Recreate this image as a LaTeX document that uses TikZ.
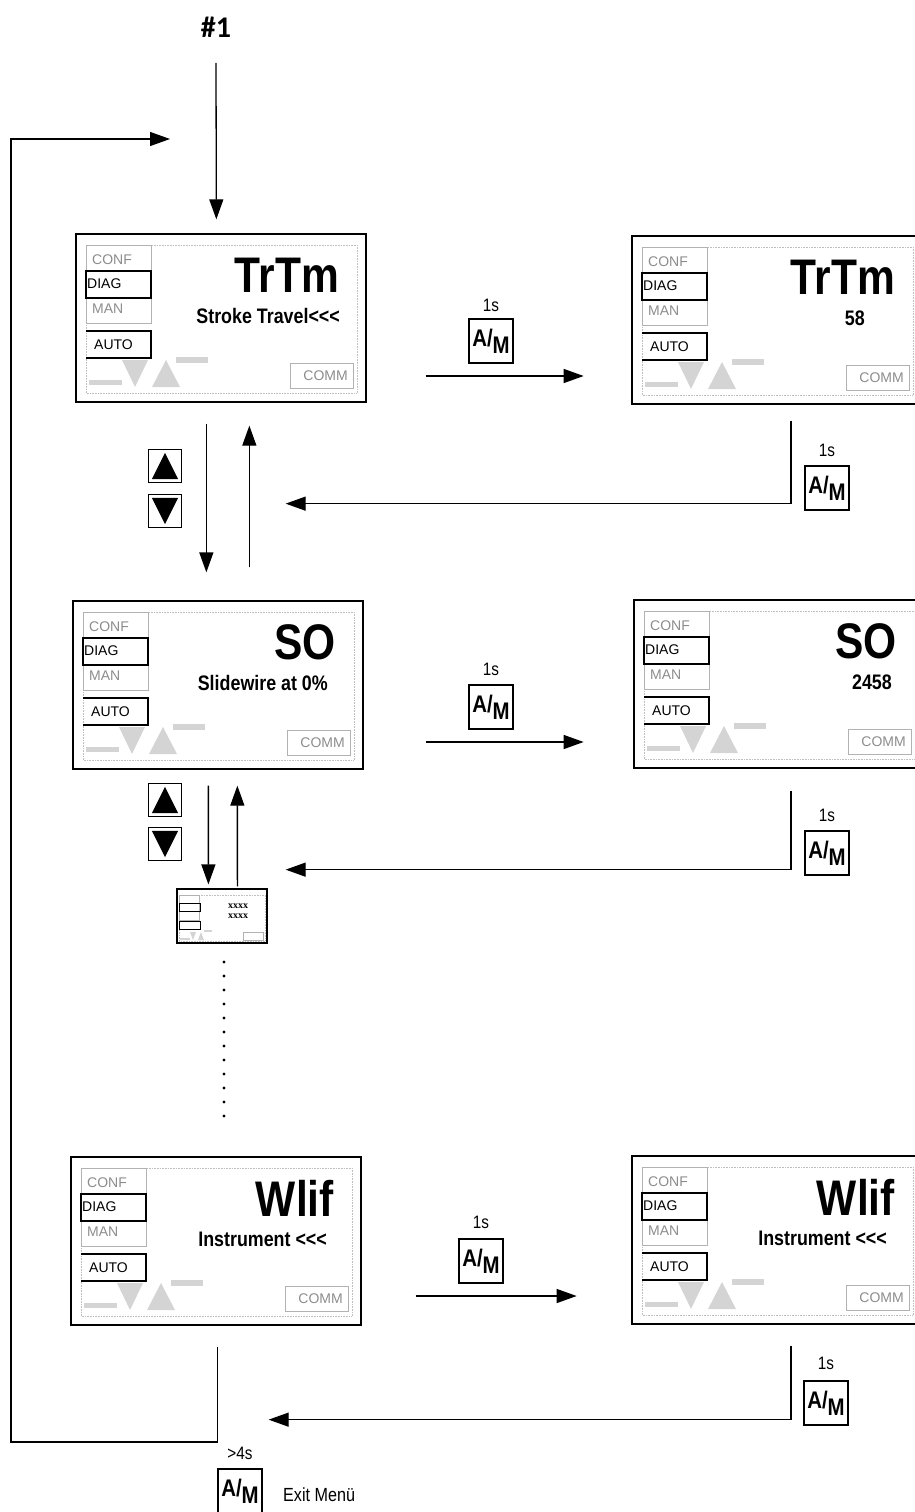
\documentclass[tikz,border=0pt]{standalone}
\usepackage{fontspec}
\setmainfont{Liberation Sans}
\newfontfamily\narrowfont[FakeStretch=0.85]{Liberation Sans}
\newfontfamily\headfont{Carlito}
\newfontfamily\minifont{Liberation Serif}
\usetikzlibrary{arrows.meta,calc}
\tikzstyle{flow} = [line width=1.3pt,-{Triangle[length=20pt,width=14pt]}]
\tikzstyle{screen} = [draw,line width=1.3pt,minimum width=290pt,minimum height=168pt,inner sep=0pt]
\tikzstyle{lcd} = [draw=black!25,line width=0.6pt,densely dotted]
\tikzstyle{pale} = [draw=black!30,line width=1pt]
\tikzstyle{sel} = [draw,line width=1.3pt]
\tikzstyle{seg} = [fill=black!17]
\tikzstyle{menu} = [inner sep=0pt,anchor=west,font=\fontsize{14}{14}\selectfont]
\tikzstyle{bigtxt} = [inner sep=0pt,anchor=east,font=\narrowfont\bfseries\fontsize{50}{50}\selectfont]
\tikzstyle{subtxt} = [inner sep=0pt,anchor=east,font=\narrowfont\bfseries\fontsize{21}{21}\selectfont]
\tikzstyle{key} = [draw,line width=1.3pt,minimum size=44pt,inner sep=0pt,font=\narrowfont\bfseries\fontsize{24}{24}\selectfont]
\tikzstyle{note} = [inner sep=0pt,font=\narrowfont\fontsize{18}{18}\selectfont]
\tikzstyle{btn} = [draw,line width=1.3pt,minimum size=33pt,inner sep=0pt]

% one display: name, x, y (top left), big text, small text, right end of small text
\newcommand{\screen}[6]{%
  \begin{scope}[shift={(#2,#3)}]
    \node[screen] (#1) at (145,84) {};
    \draw[lcd] (10,11) rectangle (281,159);
    \draw[pale] (10,11) rectangle (75,89);
    \draw[sel] (10,37) rectangle (75,64);
    \draw[sel] (10,97) -- (75,97) -- (75,124) -- (10,124);
    \draw[pale] (214,129) rectangle (277,154);
    \fill[seg] (13,146) rectangle (46,151);
    \fill[seg] (46,126) -- (72,126) -- (59,153) -- cycle;
    \fill[seg] (76,153) -- (104,153) -- (90,126) -- cycle;
    \fill[seg] (100,123) rectangle (132,129);
    \node[menu,text=black!45] (#1-conf) at (16,26) {CONF};
    \node[menu] (#1-diag) at (11,50) {DIAG};
    \node[menu,text=black!45] (#1-man) at (16,75) {MAN};
    \node[menu] (#1-auto) at (18,111) {AUTO};
    \node[menu,anchor=east,text=black!45] (#1-comm) at (272,142) {COMM};
    \node[bigtxt] (#1-big) at (263,41) {#4};
    \node[subtxt] (#1-sub) at (#6,82) {#5};
  \end{scope}}

\begin{document}
\begin{tikzpicture}[x=1pt,y=-1pt]
  \useasboundingbox (0,0) rectangle (914,1512);

  % displays
  \screen{trtm}{76}{234}{TrTm}{Stroke Travel<<<}{264}
  \screen{trtmv}{632}{236}{TrTm}{58}{233}
  \screen{so}{73}{601}{SO}{Slidewire at 0\%}{255}
  \screen{sov}{634}{600}{SO}{2458}{258}
  \screen{wlif}{71}{1157}{Wlif}{Instrument <<<}{256}
  \screen{wlifv}{632}{1156}{Wlif}{Instrument <<<}{255}

  % small display
  \node[screen,minimum width=90pt,minimum height=54pt,line width=1.2pt] (mini) at (222,916) {};
  \draw[lcd] (179,895) rectangle (265,941);
  \draw[pale,line width=0.6pt] (179,895) rectangle (199,920);
  \draw[sel,line width=1pt] (179,903) rectangle (200,911);
  \draw[sel,line width=1pt] (179,921) rectangle (200,929);
  \draw[pale,line width=0.6pt] (243,932) rectangle (263,940);
  \fill[seg] (180,938) rectangle (190,940);
  \fill[seg] (190,932) -- (196,932) -- (193,940) -- cycle;
  \fill[seg] (198,940) -- (204,940) -- (201,932) -- cycle;
  \fill[seg] (204,930) rectangle (212,932);
  \node[align=center,inner sep=0pt,font=\minifont\bfseries\fontsize{10}{10}\selectfont] (mini-txt) at (238,911) {xxxx\\xxxx};

  % entry and way back
  \node[font=\headfont\bfseries\fontsize{30}{30}\selectfont] (start) at (216,27) {\#1};
  \draw[flow] ($(start.south)+(0,22)$) -- ($(trtm.north west)+(141,-14)$);
  \coordinate (corner) at (11,1442);
  \coordinate (loop) at (170,139);
  \draw[flow] ($(wlif.south west)+(147,21)$) |- (corner) |- (loop);

  % A/M to the value
  \node[note] (t1) at (491,305) {1s};
  \node[key] (k1) at (491,341) {A/\raisebox{-7pt}{M}};
  \draw[flow] ($(trtm.east)+(59,58)$) -- +(158,0);
  \node[note] (t2) at (491,669) {1s};
  \node[key] (k2) at (491,707) {A/\raisebox{-7pt}{M}};
  \draw[flow] ($(so.east)+(62,57)$) -- +(158,0);
  \node[note] (t3) at (481,1222) {1s};
  \node[key] (k3) at (481,1261) {A/\raisebox{-7pt}{M}};
  \draw[flow] ($(wlif.east)+(54,55)$) -- +(161,0);

  % A/M back
  \node[note] (b1) at (827,450) {1s};
  \node[key] (kb1) at (827,488) {A/\raisebox{-7pt}{M}};
  \draw[flow] ($(trtmv.south)+(14,16)$) |- ($(trtm.south east)+(-81,101)$);
  \node[note] (b2) at (827,815) {1s};
  \node[key] (kb2) at (827,853) {A/\raisebox{-7pt}{M}};
  \draw[flow] ($(sov.south)+(12,22)$) |- ($(so.south east)+(-78,100)$);
  \node[note] (b3) at (826,1363) {1s};
  \node[key] (kb3) at (826,1403) {A/\raisebox{-7pt}{M}};
  \draw[flow] ($(wlifv.south)+(14,21)$) |- ($(wlif.south east)+(-93,94)$);

  % up / down
  \node[btn] (up1) at (165,466) {};
  \node[btn] (dn1) at (165,511) {};
  \node[btn] (up2) at (165,800) {};
  \node[btn] (dn2) at (165,844) {};
  \foreach \b in {up1,up2}
    \fill ($(\b.south west)+(4,-4)$) -- ($(\b.south east)+(-4,-4)$) -- ($(\b.north)+(0,4)$) -- cycle;
  \foreach \b in {dn1,dn2}
    \fill ($(\b.north west)+(4,4)$) -- ($(\b.north east)+(-4,4)$) -- ($(\b.south)+(0,-4)$) -- cycle;
  \draw[flow] ($(trtm.south west)+(131,21)$) -- ($(so.north west)+(134,-28)$);
  \draw[flow] ($(so.north west)+(177,-33)$) -- ($(trtm.south west)+(174,23)$);
  \draw[flow] ($(so.south west)+(136,16)$) -- ($(mini.north west)+(32,-4)$);
  \draw[flow] ($(mini.north west)+(61,-2)$) -- ($(so.south west)+(165,16)$);

  % more entries
  \foreach \i in {0,...,11}
    \fill (224,962+14*\i) circle (1.7pt);

  % exit
  \node[note] (exit-t) at (240,1453) {>4s};
  \node[key] (exit) at (240,1491) {A/\raisebox{-7pt}{M}};
  \node[note,anchor=west,font=\narrowfont\fontsize{19}{19}\selectfont] (exit-l) at (283,1495) {Exit Menü};
\end{tikzpicture}
\end{document}
